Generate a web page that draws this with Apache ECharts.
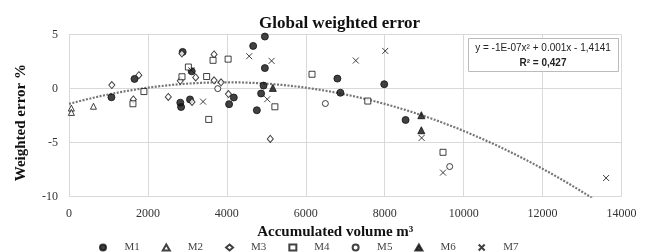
<!DOCTYPE html>
<html lang="en">

	<head>
		<meta charset="UTF-8">
		<title>Global weighted error</title>
		<style>
			body { margin: 0; background: #fff; }
			#chart { width: 646px; height: 252px; }
		</style>
	</head>

	<body>
		<div id="chart"></div>
	</body>
	<script src="https://cdn.jsdelivr.net/npm/echarts@6/dist/echarts.min.js"></script>

	<script>

		// [accumulated volume m3, weighted error %]
		var m1 = [[1075, -0.8], [1660, 0.9], [2820, -1.3], [2840, -1.7], [2880, 3.4], [3110, 1.6], [3066, -1.0],
			[4057, -1.44], [4176, -0.82], [4667, 3.95], [4963, 4.82], [4963, 1.9], [4930, 0.28], [4868, -0.45],
			[4760, -2.0], [6801, 0.93], [6877, -0.38], [7988, 0.41], [8529, -2.9]];
		var m2 = [[60, -1.8], [60, -2.2], [620, -1.63]];
		var m3 = [[1085, 0.33], [1770, 1.24], [1630, -1.0], [2516, -0.77], [2860, 3.25], [2820, 0.72], [3118, -1.23],
			[3210, 1.04], [3676, 3.16], [3676, 0.77], [3854, 0.59], [4040, -0.5], [5100, -4.65]];
		var m4 = [[1620, -1.4], [1898, -0.27], [2863, 1.1], [3025, 2.0], [3488, 1.12], [3541, -2.85], [3650, 2.62],
			[4032, 2.73], [5217, -1.68], [6158, 1.33], [7571, -1.15], [9477, -5.89]];
		var m5 = [[3770, 0.0], [6496, -1.38], [9647, -7.21]];
		var m6 = [[5165, 0.07], [8928, -2.46], [8928, -3.85]];
		var m7 = [[3100, 1.7], [3397, -1.2], [4566, 3.0], [5133, 2.57], [5023, -0.98], [7267, 2.6], [8013, 3.49],
			[8935, -4.56], [9477, -7.77], [13610, -8.27]];

		var seriesNames = ['M1', 'M2', 'M3', 'M4', 'M5', 'M6', 'M7'];
		var xTicks = [0, 2000, 4000, 6000, 8000, 10000, 12000, 14000];
		var yTicks = [-10, -5, 0, 5];

		// polynomial trend (a x^2 + b x + c) as drawn
		var trendCoef = [-1.25e-7, 0.001, -1.4141];
		var equationText = 'y = -1E-07x² + 0.001x - 1,4141';
		var r2Text = 'R² = 0,427';

		var trend = [];
		for (var x = 0; x <= 13400; x += 100) {
			trend.push([x, trendCoef[0] * x * x + trendCoef[1] * x + trendCoef[2]]);
		}

		var ink = '#111';
		var crossPath = 'path://M0,0L10,10M10,0L0,10';
		var serif = 'Liberation Serif';
		var eqFont = '10px "Liberation Sans"';
		var r2Font = 'bold 10px "Liberation Sans"';

		function measure(text, font) {
			var ctx = document.createElement('canvas').getContext('2d');
			ctx.font = font;
			return ctx.measureText(text).width;
		}

		function scatter(name, data, symbol, size, filled) {
			return {
				name: name,
				type: 'scatter',
				data: data,
				symbol: symbol,
				symbolSize: size,
				itemStyle: {
					color: filled ? ink : '#fff',
					borderColor: ink,
					borderWidth: 1
				},
				z: 3
			};
		}

		var boxLeft = 468, boxWidth = 150;
		var boxCx = boxLeft + boxWidth / 2;

		var chart = echarts.init(document.getElementById('chart'));

		var option = {
			backgroundColor: '#fff',
			animation: false,
			title: {
				text: 'Global weighted error',
				left: 254,
				top: 10,
				textStyle: { fontFamily: serif, fontSize: 17, fontWeight: 'bold', color: '#111' }
			},
			grid: { left: 69, right: 24.5, top: 34.6, bottom: 55.3 },
			xAxis: {
				type: 'value',
				min: xTicks[0],
				max: xTicks[xTicks.length - 1],
				interval: 2000,
				name: 'Accumulated volume m³',
				nameLocation: 'middle',
				nameGap: 27,
				nameTextStyle: { fontFamily: serif, fontSize: 15, fontWeight: 'bold', color: '#111', padding: [0, 20, 0, 0] },
				axisLine: { show: false },
				axisTick: { show: false },
				axisLabel: {
					fontFamily: serif, fontSize: 12, color: '#333', margin: 11,
					formatter: function (v) { return String(v); }
				},
				splitLine: { lineStyle: { color: '#d9d9d9' } }
			},
			yAxis: {
				type: 'value',
				min: yTicks[0],
				max: yTicks[yTicks.length - 1],
				interval: 5,
				name: 'Weighted error %',
				nameLocation: 'middle',
				nameGap: 40,
				nameTextStyle: { fontFamily: serif, fontSize: 15, fontWeight: 'bold', color: '#111', padding: [0, 14, 0, 0] },
				axisLine: { show: false },
				axisTick: { show: false },
				axisLabel: { fontFamily: serif, fontSize: 12, color: '#333', margin: 11 },
				splitLine: { lineStyle: { color: '#d9d9d9' } }
			},
			legend: {
				data: seriesNames,
				left: 94,
				top: 237,
				itemWidth: 7,
				itemHeight: 6,
				itemGap: 22,
				textStyle: { fontFamily: serif, fontSize: 11, color: '#444', padding: [0, 0, 0, 13] }
			},
			graphic: [{
				type: 'rect',
				left: boxLeft,
				top: 38,
				shape: { width: boxWidth, height: 33 },
				style: { fill: '#fff', stroke: '#bbb', lineWidth: 1 },
				z: 10
			}, {
				type: 'text',
				x: boxCx - measure(equationText, eqFont) / 2,
				y: 43,
				style: { text: equationText, font: eqFont, fill: '#222' },
				z: 11
			}, {
				type: 'text',
				x: boxCx - measure(r2Text, r2Font) / 2,
				y: 58,
				style: { text: r2Text, font: r2Font, fill: '#222' },
				z: 11
			}],
			series: [
				scatter('M1', m1, 'circle', 7, true),
				scatter('M2', m2, 'triangle', 6, false),
				scatter('M3', m3, 'diamond', [6, 7], false),
				scatter('M4', m4, 'rect', 6, false),
				scatter('M5', m5, 'circle', 6, false),
				scatter('M6', m6, 'triangle', 7, true),
				scatter('M7', m7, crossPath, 6, false),
				{
					name: 'trend',
					type: 'line',
					data: trend,
					showSymbol: false,
					silent: true,
					lineStyle: { color: '#767676', width: 2.2, type: [2, 1.5] },
					z: 2
				}
			]
		};

		chart.setOption(option);

	</script>

</html>
